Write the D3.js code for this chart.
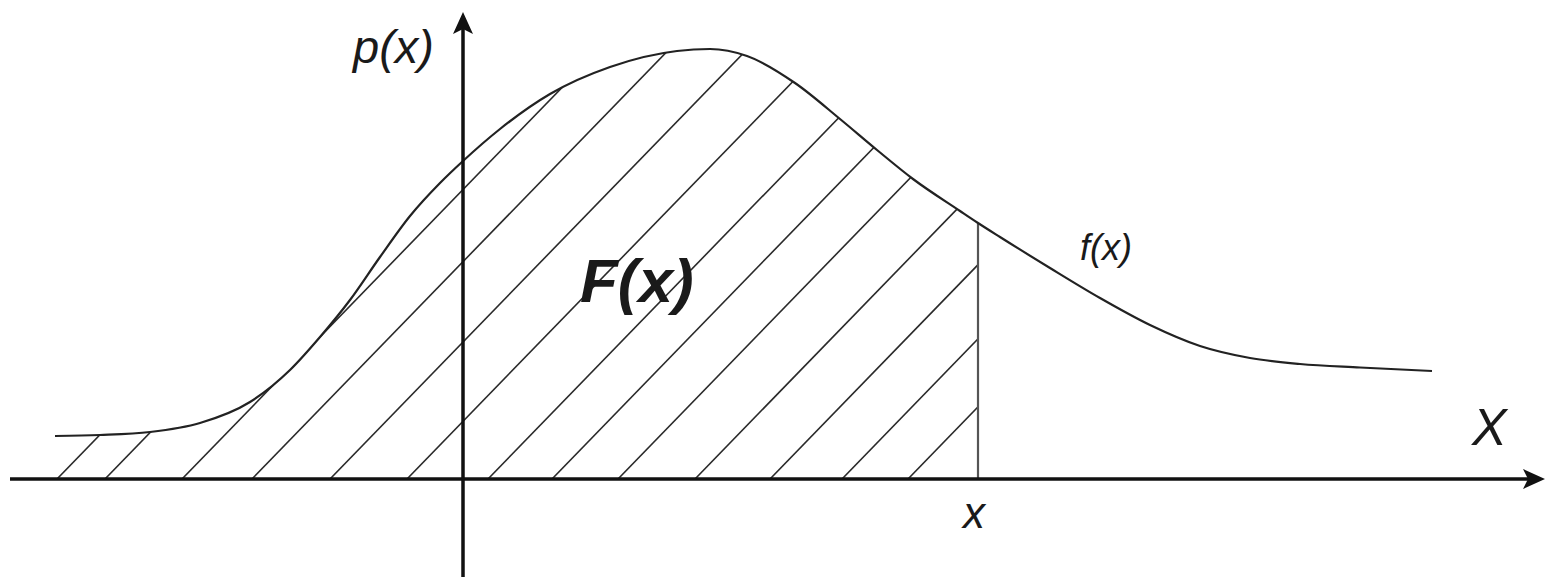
<!DOCTYPE html>
<html>
<head>
<meta charset="utf-8">
<script src="https://cdn.jsdelivr.net/npm/d3@7"></script>
<style>
  html, body { margin: 0; padding: 0; background: #fff; }
  svg { display: block; }
</style>
</head>
<body>
<div id="chart"></div>
<script>
// density curve f(x) (x in units, y as density)
const curveX = [-4.08, -3.63, -3.13, -2.63, -2.13, -1.73, -1.43, -1.13, -0.83, -0.53, -0.23, 0,
                0.37, 0.87, 1.47, 2.14, 2.47, 2.84, 3.32, 3.77, 4.14, 4.50, 4.97, 5.15,
                5.37, 5.87, 6.37, 6.87, 7.37, 7.87, 8.37, 8.97, 9.69];
const curveY = [0.043, 0.044, 0.047, 0.056, 0.077, 0.109, 0.142, 0.179, 0.222, 0.263, 0.296, 0.318,
                0.350, 0.385, 0.412, 0.428, 0.430, 0.423, 0.396, 0.360, 0.329, 0.300, 0.268, 0.256,
                0.242, 0.211, 0.181, 0.154, 0.133, 0.121, 0.115, 0.1115, 0.108];

// the point x up to which F(x) is shaded
const xMark = 5.15;

// where each hatch stroke meets the x axis
const hatchStarts = [-4.06, -3.58, -2.81, -2.11, -1.33, -0.56, 0.25, 0.89, 1.55, 2.32, 3.07, 3.79, 4.45];
const hatchSlope = 0.103; // density per x unit (about 45 degrees on screen)

// labels
const labelTexts = ["p(x)", "F(x)", "f(x)", "x", "X"];
const labelX = [-1.10, 1.17, 6.17, 5.00, 10.09];
const labelY = [0.416, 0.177, 0.219, -0.049, 0.034];

const width = 1560, height = 577;

const x = d3.scaleLinear().domain([-4.53, 10.82]).range([10, 1545]);
const y = d3.scaleLinear().domain([-0.098, 0.467]).range([577, 12]);

const svg = d3.select("#chart").append("svg")
    .attr("width", width)
    .attr("height", height);

const pts = curveX.map((d, i) => [d, curveY[i]]);
const smooth = d3.curveMonotoneX;

// clip: region under the curve, left of xMark
const defs = svg.append("defs");
defs.append("clipPath").attr("id", "under")
    .append("path")
    .attr("d", d3.area()
        .x(d => x(d[0]))
        .y0(y(0))
        .y1(d => y(d[1]))
        .curve(smooth)(pts));
defs.append("clipPath").attr("id", "left")
    .append("rect")
    .attr("x", 0).attr("y", 0)
    .attr("width", x(xMark)).attr("height", y(0));

// hatching
const hatch = svg.append("g").attr("clip-path", "url(#under)")
    .append("g").attr("clip-path", "url(#left)");
hatch.selectAll("line")
    .data(hatchStarts)
    .join("line")
    .attr("x1", d => x(d))
    .attr("y1", y(0))
    .attr("x2", d => x(d + 6))
    .attr("y2", y(6 * hatchSlope))
    .style("stroke", "#2a2a2a")
    .style("stroke-width", "1.6px");

// vertical line at x
svg.append("line")
    .attr("x1", x(xMark)).attr("x2", x(xMark))
    .attr("y1", y(0))
    .attr("y2", y(curveY[curveX.indexOf(xMark)]))
    .style("stroke", "#555")
    .style("stroke-width", "2.2px");

// curve f(x)
svg.append("path")
    .datum(pts)
    .attr("d", d3.line()
        .x(d => x(d[0]))
        .y(d => y(d[1]))
        .curve(smooth))
    .style("fill", "none")
    .style("stroke", "#222")
    .style("stroke-width", "2.2px");

// axes with arrows
const [x0, x1] = x.domain();
const [yLo, yHi] = y.domain();
svg.append("line")
    .attr("x1", x(x0)).attr("x2", x(x1) - 12)
    .attr("y1", y(0)).attr("y2", y(0))
    .style("stroke", "#111").style("stroke-width", "3.5px");
svg.append("line")
    .attr("x1", x(0)).attr("x2", x(0))
    .attr("y1", y(yLo)).attr("y2", y(yHi) + 12)
    .style("stroke", "#111").style("stroke-width", "3.5px");

const ax = x(x1), ay = y(0);
svg.append("path")
    .attr("d", `M${ax},${ay} L${ax - 22},${ay - 10} L${ax - 17},${ay} L${ax - 22},${ay + 10} Z`)
    .style("fill", "#111");
const bx = x(0), by = y(yHi);
svg.append("path")
    .attr("d", `M${bx},${by} L${bx - 10},${by + 22} L${bx},${by + 17} L${bx + 10},${by + 22} Z`)
    .style("fill", "#111");

// labels
const sizes = [47, 62, 36, 44, 52];
const weights = ["normal", "bold", "normal", "normal", "normal"];
svg.selectAll("text.lbl")
    .data(labelTexts)
    .join("text")
    .attr("class", "lbl")
    .attr("x", (d, i) => x(labelX[i]))
    .attr("y", (d, i) => y(labelY[i]))
    .style("font-family", "'Liberation Sans', Arial, sans-serif")
    .style("font-style", "italic")
    .style("font-size", (d, i) => sizes[i] + "px")
    .style("font-weight", (d, i) => weights[i])
    .style("fill", "#1a1a1a")
    .text(d => d);
</script>
</body>
</html>
